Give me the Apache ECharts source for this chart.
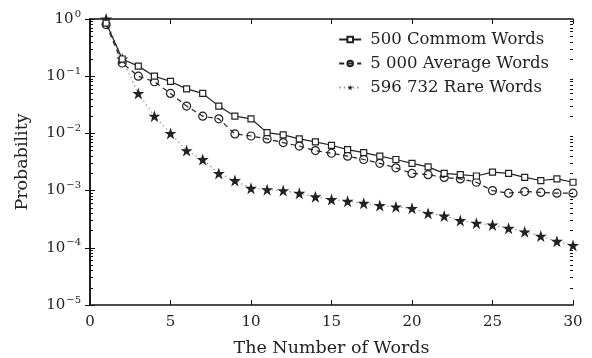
<!DOCTYPE html>
<html>
<head>
<meta charset="utf-8">
<script src="https://cdn.jsdelivr.net/npm/echarts@6/dist/echarts.min.js"></script>
<style>
  html, body { margin: 0; padding: 0; background: #fff; }
  #chart { width: 592px; height: 358px; }
</style>
</head>
<body>
<div id="chart"></div>
<script>
// x values (number of words)
var wordCounts = [1, 2, 3, 4, 5, 6, 7, 8, 9, 10, 11, 12, 13, 14, 15, 16, 17, 18, 19, 20, 21, 22, 23, 24, 25, 26, 27, 28, 29, 30];

var commonWords = [0.85, 0.2, 0.15, 0.1, 0.081, 0.06, 0.05, 0.03, 0.02, 0.018, 0.0103, 0.0094, 0.008, 0.0071, 0.0062,
  0.0052, 0.0046, 0.004, 0.0035, 0.003, 0.0026, 0.002, 0.0019, 0.0018, 0.0021, 0.002, 0.0017, 0.0015, 0.0016, 0.0014];
var averageWords = [0.8, 0.17, 0.1, 0.08, 0.05, 0.03, 0.02, 0.018, 0.0098, 0.009, 0.008, 0.0069, 0.006, 0.005, 0.0045,
  0.004, 0.0035, 0.003, 0.0025, 0.002, 0.0019, 0.0017, 0.0016, 0.0014, 0.001, 0.0009, 0.00096, 0.00093, 0.0009, 0.0009];
var rareWords = [1.0, 0.2, 0.05, 0.02, 0.01, 0.005, 0.0035, 0.002, 0.0015, 0.0011, 0.00104, 0.001, 0.0009, 0.00078, 0.0007,
  0.00065, 0.0006, 0.00055, 0.00052, 0.00049, 0.0004, 0.00036, 0.0003, 0.00027, 0.00025, 0.00022, 0.00019, 0.00016, 0.00013, 0.00011];

var seriesNames = ["500 Commom Words", "5 000 Average Words", "596 732 Rare Words"];

// minor ticks of the log axis: 2..9 in every decade
var minorTicks = [];
for (var e = -5; e < 0; e++) {
  for (var m = 2; m <= 9; m++) minorTicks.push(m * Math.pow(10, e));
}

var FONT = "DejaVu Serif";
var starPath = "path://M50,0 L61.8,35.3 L99,35.3 L69,57.3 L80.4,92.7 L50,70.9 L19.6,92.7 L31,57.3 L1,35.3 L38.2,35.3 Z";

function pairs(ys) {
  return wordCounts.map(function (x, i) { return [x, ys[i]]; });
}

var myChart = echarts.init(document.getElementById("chart"));

var boxLine = { show: true, lineStyle: { color: "#111", width: 1.5 } };

var option = {
  animation: false,
  backgroundColor: "#fff",
  textStyle: { fontFamily: FONT },
  grid: { left: 90, right: 19, top: 19, bottom: 53, outerBoundsMode: "none", containLabel: false },
  legend: {
    orient: "vertical",
    right: 38,
    top: 26,
    itemWidth: 22,
    itemHeight: 7,
    itemGap: 7,
    textStyle: { fontFamily: FONT, fontSize: 16.5, color: "#222", padding: [0, 0, 0, 4] },
    data: seriesNames
  },
  xAxis: [
    {
      type: "value",
      min: 0,
      max: 30,
      interval: 5,
      name: "The Number of Words",
      nameLocation: "middle",
      nameGap: 34,
      nameTextStyle: { fontFamily: FONT, fontSize: 17.5, color: "#222" },
      axisLine: boxLine,
      axisTick: { inside: true, length: 5, lineStyle: { color: "#111", width: 1 } },
      axisLabel: { fontFamily: FONT, fontSize: 15, color: "#222", margin: 10 },
      splitLine: { show: false }
    },
    {
      type: "value",
      position: "top",
      min: 0,
      max: 30,
      interval: 5,
      axisLine: boxLine,
      axisTick: { inside: true, length: 5, lineStyle: { color: "#111", width: 1 } },
      axisLabel: { show: false },
      splitLine: { show: false }
    }
  ],
  yAxis: [
    {
      type: "log",
      logBase: 10,
      min: 1e-5,
      max: 1,
      name: "Probability",
      nameLocation: "middle",
      nameGap: 59,
      nameTextStyle: { fontFamily: FONT, fontSize: 17.5, color: "#222" },
      axisLine: boxLine,
      axisTick: { inside: true, length: 5, lineStyle: { color: "#111", width: 1 } },
      splitLine: { show: false },
      axisLabel: {
        margin: 9,
        formatter: function (v) {
          var ex = Math.round(Math.log10(v));
          return "{b|10}{s|" + (ex < 0 ? "\u2212" + (-ex) : ex) + "}";
        },
        rich: {
          b: { fontFamily: FONT, fontSize: 15, color: "#222" },
          s: { fontFamily: FONT, fontSize: 10, color: "#222", padding: [0, 0, 10, 1] }
        }
      }
    },
    {
      type: "log",
      logBase: 10,
      min: 1e-5,
      max: 1,
      position: "right",
      axisLine: boxLine,
      axisTick: { inside: true, length: 5, lineStyle: { color: "#111", width: 1 } },
      axisLabel: { show: false },
      splitLine: { show: false }
    },
    {
      type: "log",
      logBase: 10,
      min: 1e-5,
      max: 1,
      position: "left",
      axisLine: { show: false },
      axisTick: { inside: true, length: 3, customValues: minorTicks, lineStyle: { color: "#111", width: 1 } },
      axisLabel: { show: false },
      splitLine: { show: false }
    },
    {
      type: "log",
      logBase: 10,
      min: 1e-5,
      max: 1,
      position: "right",
      axisLine: { show: false },
      axisTick: { inside: true, length: 3, customValues: minorTicks, lineStyle: { color: "#111", width: 1 } },
      axisLabel: { show: false },
      splitLine: { show: false }
    }
  ],
  series: [
    {
      name: seriesNames[0],
      type: "line",
      symbol: "rect",
      symbolSize: 6,
      lineStyle: { color: "#222", width: 1.2, type: "solid" },
      itemStyle: { color: "#fff", borderColor: "#222", borderWidth: 1.2 },
      data: pairs(commonWords),
      z: 3
    },
    {
      name: seriesNames[1],
      type: "line",
      symbol: "circle",
      symbolSize: 8,
      lineStyle: { color: "#222", width: 1.2, type: [5, 4] },
      itemStyle: { color: "rgba(0,0,0,0)", borderColor: "#222", borderWidth: 1.2 },
      data: pairs(averageWords),
      z: 2
    },
    {
      name: seriesNames[2],
      type: "line",
      symbol: starPath,
      symbolSize: 12,
      lineStyle: { color: "#999", width: 1.2, type: [1.5, 3] },
      itemStyle: { color: "#222", borderColor: "#222", borderWidth: 0 },
      data: pairs(rareWords),
      z: 1
    }
  ]
};

myChart.setOption(option);
</script>
</body>
</html>
